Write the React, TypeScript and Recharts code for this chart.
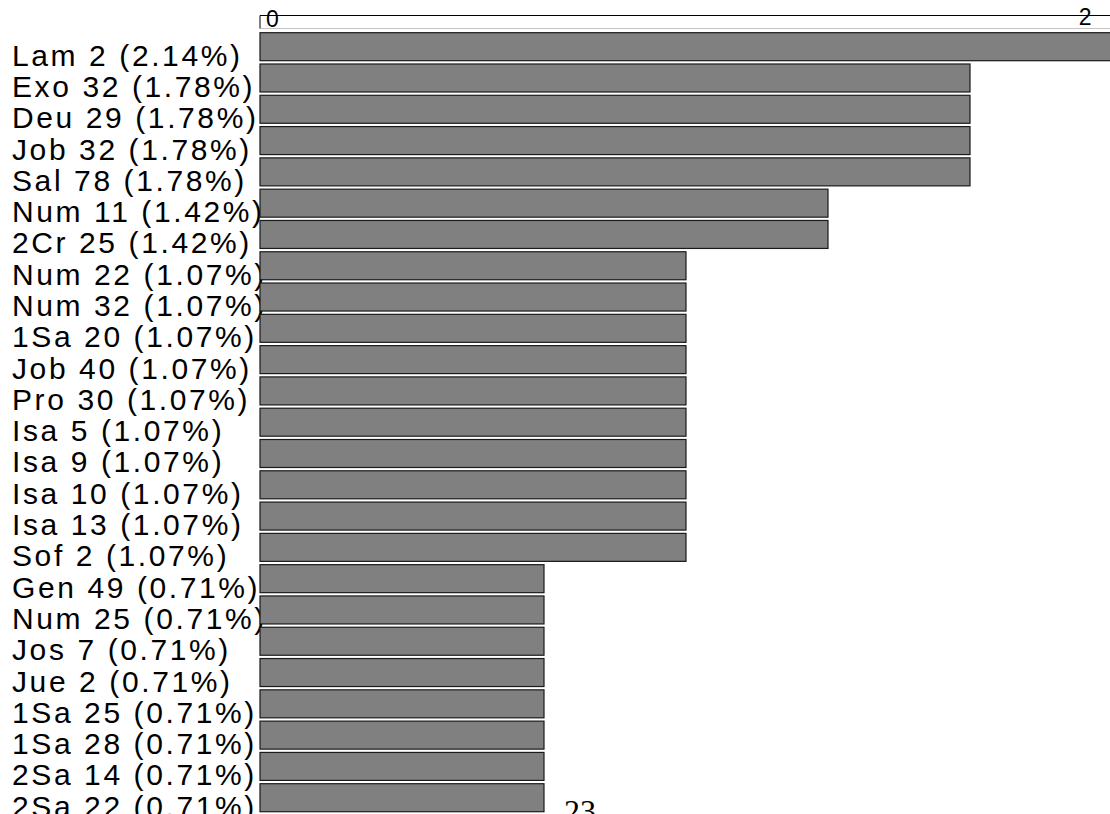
import React from 'react';
import { BarChart, Bar, XAxis, YAxis } from 'recharts';

// verses ranked by occurrence count
const refs = [
  'Lam 2', 'Exo 32', 'Deu 29', 'Job 32', 'Sal 78', 'Num 11', '2Cr 25',
  'Num 22', 'Num 32', '1Sa 20', 'Job 40', 'Pro 30', 'Isa 5', 'Isa 9',
  'Isa 10', 'Isa 13', 'Sof 2', 'Gen 49', 'Num 25', 'Jos 7', 'Jue 2',
  '1Sa 25', '1Sa 28', '2Sa 14', '2Sa 22',
];
const counts = [6, 5, 5, 5, 5, 4, 4, 3, 3, 3, 3, 3, 3, 3, 3, 3, 3, 2, 2, 2, 2, 2, 2, 2, 2];
const percents = [
  '2.14', '1.78', '1.78', '1.78', '1.78', '1.42', '1.42', '1.07', '1.07', '1.07',
  '1.07', '1.07', '1.07', '1.07', '1.07', '1.07', '1.07', '0.71', '0.71', '0.71',
  '0.71', '0.71', '0.71', '0.71', '0.71',
];
const axisTicks = [0, 6];
const axisTickLabels = ['0', '2'];

const data = refs.map((r, i) => ({ label: `${r} (${percents[i]}%)`, count: counts[i] }));

const FONT = '"Liberation Sans", Arial, Helvetica, sans-serif';
const PLOT_W = 852;

// label is painted inside the bar shape so the bar covers its tail, like the original
const LabelledBar = (props: any) => {
  const { x, y, width, height, payload } = props;
  return (
    <g>
      <text x={12} y={y + height / 2 + 19} fontSize={30} fontFamily={FONT} fill="#000" style={{ letterSpacing: 2.6 }}>
        {payload?.label}
      </text>
      <rect x={x} y={y} width={width} height={height} fill="#808080" stroke="#1a1a1a" strokeWidth={1.2} />
    </g>
  );
};

const TopTick = ({ x, y, index }: { x?: number; y?: number; index?: number }) => {
  const tx = x ?? 0;
  const ty = y ?? 0;
  if (index === 0) {
    return (
      <g>
        <line x1={tx} x2={tx + PLOT_W} y1={ty} y2={ty} stroke="#000" strokeWidth={1} />
        <text x={tx + 6} y={ty + 11.5} fontSize={23} fontFamily={FONT} fill="#000">{axisTickLabels[0]}</text>
      </g>
    );
  }
  return (
    <text x={tx - 20.5} y={ty + 9.5} fontSize={23} fontFamily={FONT} fill="#000" textAnchor="end">
      {axisTickLabels[index ?? 1]}
    </text>
  );
};

export default function App() {
  return (
    <div style={{ position: 'absolute', left: 0, top: 0, width: 1110, height: 814, overflow: 'hidden', background: '#fff' }}>
      <BarChart
        width={1112}
        height={814}
        data={data}
        layout="vertical"
        margin={{ top: 0, right: 0, bottom: 1, left: 0 }}
        barSize={28}
      >
        <XAxis
          type="number"
          orientation="top"
          domain={[0, 6]}
          ticks={axisTicks}
          interval={0}
          height={28.5}
          tickSize={13}
          tickMargin={0}
          axisLine={{ stroke: '#c4c4c4' }}
          tickLine={{ stroke: '#000' }}
          tick={<TopTick />}
        />
        <YAxis
          type="category"
          dataKey="label"
          width={260}
          interval={0}
          axisLine={false}
          tickLine={false}
          padding={{ top: 2.2, bottom: 0 }}
          tick={false}
        />
        <Bar dataKey="count" fill="#808080" shape={<LabelledBar />} isAnimationActive={false} />
      </BarChart>
      <div
        style={{
          position: 'absolute', left: 564, top: 794.8, fontSize: 32, lineHeight: '32px',
          fontFamily: '"Liberation Serif", "Times New Roman", serif', color: '#000',
        }}
      >
        23
      </div>
    </div>
  );
}
